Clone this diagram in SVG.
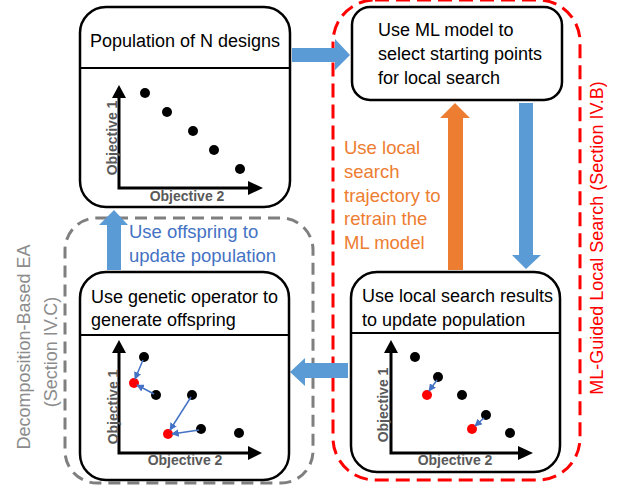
<svg xmlns="http://www.w3.org/2000/svg" width="621" height="488" viewBox="0 0 621 488">
<defs>
<style>
.node{fill:#fff;stroke:#000;stroke-width:2.5}
.div{stroke:#000;stroke-width:2}
.t{font-family:"Liberation Sans",Arial,sans-serif;font-size:18px;fill:#000}
.ax{stroke:#000;stroke-width:3;fill:none}
.axl{font-family:"Liberation Sans",Arial,sans-serif;font-size:14px;font-weight:bold;fill:#595959}
.dot{fill:#000}
.red{fill:#ff0000}
.mv{stroke:#4472C4;stroke-width:1.5;fill:none;marker-end:url(#mh)}
</style>
<marker id="mh" viewBox="0 0 10 10" refX="9" refY="5" markerWidth="5" markerHeight="5" orient="auto" markerUnits="strokeWidth">
<path d="M0,0 L10,5 L0,10 z" fill="#4472C4"/>
</marker>
</defs>

<!-- group boundaries -->
<g id="ml-guided-group">
<rect x="333" y="0" width="247" height="480" rx="42" fill="none" stroke="#ff0000" stroke-width="3" stroke-dasharray="14 7"/>
<text transform="translate(603,238) rotate(-90)" text-anchor="middle" font-family="Liberation Sans, Arial, sans-serif" font-size="18" fill="#ff0000">ML-Guided Local Search (Section IV.B)</text>
</g>
<g id="decomp-group">
<rect x="65" y="218" width="248" height="265" rx="32" fill="none" stroke="#7f7f7f" stroke-width="3" stroke-dasharray="12 7"/>
<text transform="translate(30,347) rotate(-90)" text-anchor="middle" font-family="Liberation Sans, Arial, sans-serif" font-size="18" fill="#8c8c8c">Decomposition-Based EA</text>
<text transform="translate(57,352) rotate(-90)" text-anchor="middle" font-family="Liberation Sans, Arial, sans-serif" font-size="18" fill="#8c8c8c">(Section IV.C)</text>
</g>

<!-- connectors -->
<g id="connectors">
<polygon points="292,48 335,48 335,39 350,55 335,70 335,62 292,62" fill="#5B9BD5"/>
<polygon points="519,103 533,103 533,255 541,255 526,269 512,255 519,255" fill="#5B9BD5"/>
<polygon points="448,270 463,270 463,118 470,118 455,103 440,118 448,118" fill="#ED7D31"/>
<polygon points="348,363 305,363 305,358 290,372 305,386 305,378 348,378" fill="#5B9BD5"/>
<polygon points="107,270 121,270 121,225 128,225 114,210 99,225 107,225" fill="#5B9BD5"/>
<text class="t" style="fill:#ED7D31;font-size:18.5px">
<tspan x="344" y="154">Use local</tspan>
<tspan x="344" y="178">search</tspan>
<tspan x="344" y="202">trajectory to</tspan>
<tspan x="344" y="225">retrain the</tspan>
<tspan x="344" y="249">ML model</tspan>
</text>
<text class="t" style="fill:#4472C4;font-size:18.5px">
<tspan x="129" y="238">Use offspring to</tspan>
<tspan x="129" y="262">update population</tspan>
</text>
</g>

<!-- Node: population -->
<g id="population">
<rect class="node" x="80" y="7" width="210" height="200" rx="26"/>
<line class="div" x1="80" y1="68" x2="290" y2="68"/>
<text class="t" x="185" y="47" text-anchor="middle">Population of N designs</text>
<path class="ax" d="M119,96 V188 H250"/>
<polygon points="112,98 119,85 126,98"/>
<polygon points="248,181 263,188 248,195"/>
<text class="axl" x="187" y="201" text-anchor="middle">Objective 2</text>
<text class="axl" transform="translate(117,138) rotate(-90)" text-anchor="middle">Objective 1</text>
<circle class="dot" cx="145" cy="93" r="5"/>
<circle class="dot" cx="167" cy="112" r="5"/>
<circle class="dot" cx="193" cy="131" r="5"/>
<circle class="dot" cx="214" cy="150" r="5"/>
<circle class="dot" cx="240" cy="169" r="5"/>
</g>

<!-- Node: ML select -->
<g id="ml-select">
<rect class="node" x="352" y="7" width="210" height="93" rx="18"/>
<text class="t">
<tspan x="378" y="36">Use ML model to</tspan>
<tspan x="378" y="60">select starting points</tspan>
<tspan x="378" y="84">for local search</tspan>
</text>
</g>

<!-- Node: local search results -->
<g id="local-update">
<rect class="node" x="351" y="272" width="209" height="200" rx="26"/>
<line class="div" x1="351" y1="333" x2="560" y2="333"/>
<text class="t">
<tspan x="362" y="302">Use local search results</tspan>
<tspan x="362" y="326">to update population</tspan>
</text>
<path class="ax" d="M391,352 V453 H520"/>
<polygon points="384,353 391,340 398,353"/>
<polygon points="518,446 533,453 518,460"/>
<text class="axl" x="455" y="465" text-anchor="middle">Objective 2</text>
<text class="axl" transform="translate(388,405) rotate(-90)" text-anchor="middle">Objective 1</text>
<circle class="dot" cx="415" cy="357" r="5"/>
<circle class="dot" cx="438" cy="377" r="5"/>
<circle class="dot" cx="462" cy="395" r="5"/>
<circle class="dot" cx="486" cy="415" r="5"/>
<circle class="dot" cx="510" cy="433" r="5"/>
<circle class="red" cx="427" cy="395" r="5"/>
<circle class="red" cx="472" cy="429" r="5"/>
<line class="mv" x1="437" y1="380" x2="429" y2="391"/>
<line class="mv" x1="484" y1="418" x2="475" y2="426"/>
</g>

<!-- Node: genetic operator -->
<g id="genetic">
<rect class="node" x="80" y="272" width="209" height="208" rx="26"/>
<line class="div" x1="80" y1="335" x2="289" y2="335"/>
<text class="t">
<tspan x="91" y="303">Use genetic operator to</tspan>
<tspan x="91" y="326">generate offspring</tspan>
</text>
<path class="ax" d="M119,352 V453 H250"/>
<polygon points="112,353 119,340 126,353"/>
<polygon points="248,446 262,453 248,460"/>
<text class="axl" x="185" y="465" text-anchor="middle">Objective 2</text>
<text class="axl" transform="translate(118,407) rotate(-90)" text-anchor="middle">Objective 1</text>
<circle class="dot" cx="144" cy="357" r="5"/>
<circle class="dot" cx="156" cy="395" r="5"/>
<circle class="dot" cx="192" cy="395" r="5"/>
<circle class="dot" cx="201" cy="429" r="5"/>
<circle class="dot" cx="239" cy="433" r="5"/>
<circle class="red" cx="134" cy="383" r="5"/>
<circle class="red" cx="168" cy="434" r="5"/>
<line class="mv" x1="143" y1="360" x2="135" y2="379"/>
<line class="mv" x1="154" y1="394" x2="137" y2="385"/>
<line class="mv" x1="191" y1="397" x2="170" y2="430"/>
<line class="mv" x1="199" y1="430" x2="172" y2="434"/>
</g>
</svg>
